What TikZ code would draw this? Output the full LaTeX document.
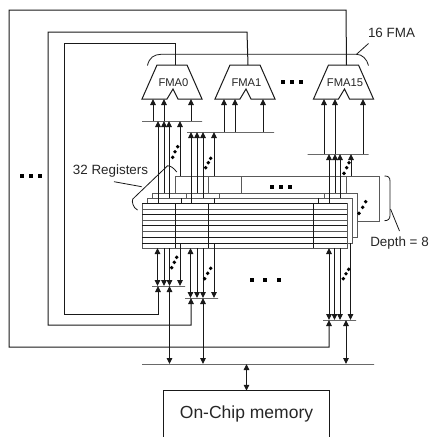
\documentclass[tikz,border=0pt]{standalone}
\usepackage{fontspec}
\setmainfont{Liberation Sans}
\usetikzlibrary{arrows.meta}
\definecolor{wire}{gray}{0.1}
\definecolor{gridg}{gray}{0.35}
\tikzset{
  x=1pt,y=-1pt,
  every path/.style={line cap=butt},
  wireline/.style={draw=wire,line width=1pt},
  loopline/.style={draw=wire,line width=1pt,line join=miter},
  thin lead/.style={draw=wire,line width=0.8pt},
  up/.style={wireline,-{Triangle[length=6pt,width=5.6pt]}},
  updown/.style={wireline,{Triangle[length=6pt,width=5.6pt]}-{Triangle[length=6pt,width=5.6pt]}},
  busbar/.style={draw=wire,line width=1pt,inner sep=0pt,outer sep=0pt,minimum height=0pt,text height=0pt,text depth=0pt},
  reglayer/.style={draw=gridg,fill=white,line width=1pt,inner sep=0pt,outer sep=0pt},
  lbl/.style={font=\fontsize{13.4}{15}\selectfont,inner sep=0pt,text=black!85},
  fmalbl/.style={font=\fontsize{11.2}{13}\selectfont,inner sep=0pt,text=black!85},
  sq/.style={fill=black,inner sep=0pt,minimum size=4.2pt},
  dot/.style={fill=black,circle,inner sep=0pt,minimum size=3.9pt},
  fma/.pic={
    \coordinate (-in) at (3,0);
    \coordinate (-base) at (0,34);
    \draw[draw=wire,line width=1pt,line join=miter,fill=white]
      (-15,0) -- (15,0) -- (30,34) -- (6,34) -- (1,24) -- (-5,34) -- (-30,34) -- cycle;
    \node[fmalbl] at (1.5,17.5) {#1};
  },
}
\begin{document}
\begin{tikzpicture}
\useasboundingbox (0,0) rectangle (430,437);

% FMA units
\pic (f0) at (172,65) {fma={FMA0}};
\pic (f1) at (245,65) {fma={FMA1}};
\pic (f15) at (343.5,65) {fma={FMA15}};

% buses
\node[busbar,minimum width=60pt] (top0) at (172,121) {};
\node[busbar,minimum width=87pt] (top1) at (230.5,132) {};
\node[busbar,minimum width=61pt] (top15) at (338,154) {};
\node[busbar,minimum width=33pt] (low0) at (168.5,286) {};
\node[busbar,minimum width=33pt] (low1) at (201.5,298) {};
\node[busbar,minimum width=33pt] (low15) at (339.5,320) {};
\node[busbar,minimum width=232pt] (main) at (258,364) {};

% register file, back to front
\node[reglayer,minimum width=204pt,minimum height=45pt] (back) at (277,198.5) {};
\draw[draw=gridg,line width=1pt] (208,0 |- back.north) -- (208,0 |- back.south)
  (241,0 |- back.north) -- (241,0 |- back.south) (346,0 |- back.north) -- (346,0 |- back.south);
\node[reglayer,minimum width=205pt,minimum height=44pt] (rear) at (254.5,215) {};
\draw[draw=gridg,line width=1pt] (186,0 |- rear.north) -- (186,198) (219,0 |- rear.north) -- (219,198) (324,0 |- rear.north) -- (324,198);
\node[reglayer,minimum width=205pt,minimum height=45pt] (mid) at (249.5,220.5) {};
\draw[draw=wire,line width=1pt] (181,0 |- mid.north) -- (181,203) (214,0 |- mid.north) -- (214,203) (318,0 |- mid.north) -- (318,203);
\node[reglayer,minimum width=205pt,minimum height=45pt] (front) at (244.5,225.5) {};
\foreach \yy/\cc in {209/gridg,214.5/wire,220/gridg,225.5/wire,231/gridg,237/wire,243/wire}
  \draw[draw=\cc,line width=1pt] (front.west |- 0,\yy) -- (front.east |- 0,\yy);
\draw[draw=wire,line width=1pt] (front.north west) -- (front.north east);
\draw[draw=wire,line width=1pt] (175,0 |- front.north) -- (175,0 |- front.south)
  (208,0 |- front.north) -- (208,0 |- front.south) (313,0 |- front.north) -- (313,0 |- front.south);

% wires register to upper buses
\foreach \xa/\xb/\xc/\xd/\bb in {158/164/169/180/top0,191/197/203/214/top1,329/335/340/351/top15}{
  \draw[up] (\xa,0 |- front.north) -- (\xa,0 |- \bb.center);
  \draw[up] (\xb,0 |- rear.north) -- (\xb,0 |- \bb.center);
  \draw[up] (\xc,0 |- mid.north) -- (\xc,0 |- \bb.center);
  \draw[up] (\xd,0 |- back.north) -- (\xd,0 |- \bb.center);
}
% upper buses to FMA
\foreach \xa/\bb/\ff in {153/top0/f0,164/top0/f0,191/top0/f0,224/top1/f1,235/top1/f1,263/top1/f1,324/top15/f15,335/top15/f15,363/top15/f15}
  \draw[up] (\xa,0 |- \bb.center) -- (\xa,0 |- \ff-base);

% wires register to lower buses
\foreach \xa/\xb/\xc/\xd/\bb in {157.5/164/169.5/180/low0,190.5/197/203/214/low1,329/334.5/340/350.5/low15}{
  \draw[updown] (\xa,0 |- front.south) -- (\xa,0 |- \bb.center);
  \draw[up] (\xb,0 |- front.south) -- (\xb,0 |- \bb.center);
  \draw[up] (\xc,0 |- front.south) -- (\xc,0 |- \bb.center);
  \draw[up] (\xd,0 |- mid.south) -- (\xd,0 |- \bb.center);
}
% lower buses to main bus
\foreach \xa/\bb in {169.5/low0,203/low1,346/low15}
  \draw[updown] (\xa,0 |- \bb.center) -- (\xa,0 |- main.center);

% memory
\node[lbl,font=\fontsize{17.5}{20}\selectfont,minimum width=165pt,minimum height=46pt] (mem) at (246.5,414) {\raisebox{-2.5pt}{On-Chip memory}};
\draw[draw=wire,line width=1pt] (mem.south west) -- (mem.north west) -- (mem.north east) -- (mem.south east);
\draw[updown] (main.center -| mem.north) -- (mem.north);

% feedback loops
\draw[loopline,-{Triangle[length=6pt,width=5.6pt]}] (f15-in) -- (346,10) -- (9,10) -- (9,347) -- (329,347) -- (329,0 |- low15.center);
\draw[loopline,-{Triangle[length=6pt,width=5.6pt]}] (f1-in) -- (247,32) -- (48,32) -- (48,325) -- (191,325) -- (191,0 |- low1.center);
\draw[loopline,-{Triangle[length=6pt,width=5.6pt]}] (f0-in) -- (175,43) -- (64,43) -- (64,314) -- (158,314) -- (158,0 |- low0.center);

% braces and leaders
\coordinate (fmaL) at (147.5,65.5);
\coordinate (fmaR) at (368.5,65.5);
\coordinate (fmaT) at (356.5,54.3);
\draw[thin lead] (fmaL) .. controls (149,58) and (154,54.3) .. (161,54.3) -- (fmaT) .. controls (362,54.3) and (367,59) .. (fmaR);
\node[lbl] (fmalabel) at (391.5,33) {16 FMA};
\coordinate (fmaLead) at (368.5,43.5);
\draw[thin lead] (fmaT) -- (fmaLead);

\coordinate (regA) at (176.7,172);
\coordinate (regC) at (137.5,210);
\draw[thin lead] (regA) .. controls (174,168) and (170,165.5) .. (167.5,165.8) -- (132.8,199) .. controls (131.5,201) and (133,208) .. (regC);
\node[lbl] (reglabel) at (110.5,171.5) {32 Registers};
\coordinate (regLead1) at (114,181.7);
\coordinate (regLead2) at (141.7,186.7);
\draw[thin lead] (regLead1) -- (regLead2);

\coordinate (depA) at (384.5,176);
\coordinate (depB) at (384.5,220.7);
\draw[thin lead] (depA) .. controls (388,176) and (390,177) .. (390,181) -- (390,215.5) .. controls (390,219) and (388,220.7) .. (depB);
\node[lbl] (deplabel) at (399.5,243) {Depth = 8};
\coordinate (depLead1) at (390.5,209);
\coordinate (depLead2) at (399.5,231);
\draw[thin lead] (depLead1) -- (depLead2);

% ellipses
\foreach \px/\py in {21.7/175.7,30.7/175.7,40/175.7,283/81.7,291.7/81.7,301/81.7,272/186.7,280.7/186.7,290/186.7,251.7/279.7,265/279.7,279/279.7}
  \node[sq] at (\px,\py) {};
\foreach \px/\py in {177.7/146.7,175/151.7,172.7/157.3,210.7/158.3,208.3/162.7,205.7/167.7,349/162.7,346.7/167.7,344/173.3,365.7/201.7,362.7/207.3,359/213.3,176.7/257.3,174.3/262.3,171.7/267.7,210.7/268.3,207.7/273.3,204.7/278.7,348.7/269.3,346/273.7,343.3/278.7}
  \node[dot] at (\px,\py) {};
\end{tikzpicture}
\end{document}
